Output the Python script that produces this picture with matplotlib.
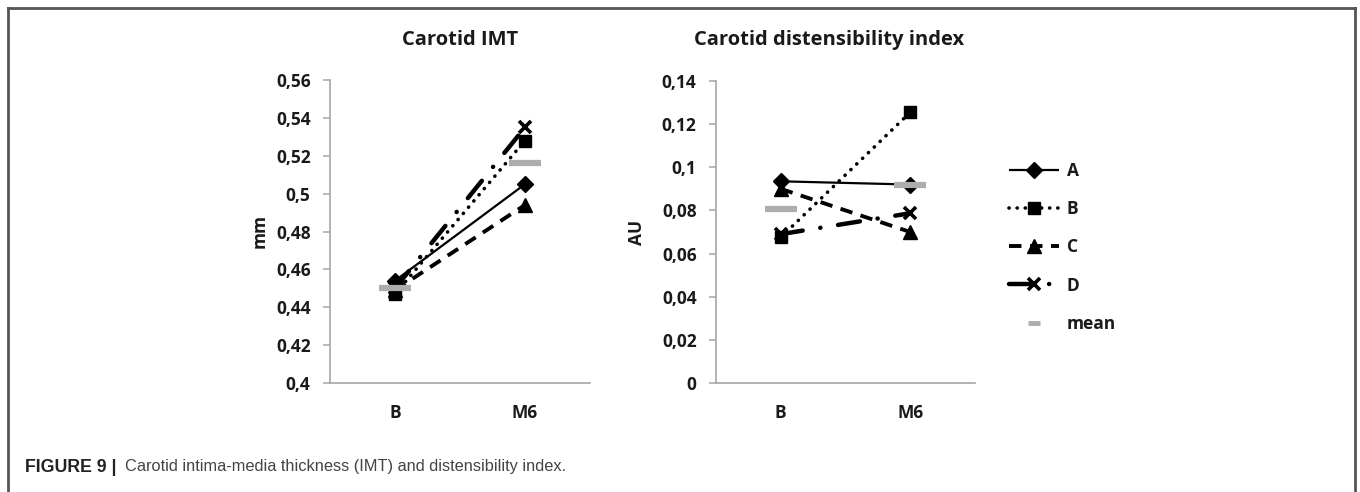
import matplotlib
matplotlib.use("Agg")
from matplotlib import pyplot as plt
from matplotlib.lines import Line2D

# chart data
categories = ["B", "M6"]
series_names = ["A", "B", "C", "D"]

imt_A = [0.454, 0.505]
imt_B = [0.447, 0.528]
imt_C = [0.449, 0.494]
imt_D = [0.450, 0.535]
imt_mean = [0.450, 0.516]

dist_A = [0.0935, 0.092]
dist_B = [0.0675, 0.1255]
dist_C = [0.090, 0.070]
dist_D = [0.069, 0.0787]
dist_mean = [0.0805, 0.0917]

imt_ticks = [0.40, 0.42, 0.44, 0.46, 0.48, 0.50, 0.52, 0.54, 0.56]
imt_ticklabels = ["0,4", "0,42", "0,44", "0,46", "0,48", "0,5", "0,52", "0,54", "0,56"]
dist_ticks = [0.0, 0.02, 0.04, 0.06, 0.08, 0.10, 0.12, 0.14]
dist_ticklabels = ["0", "0,02", "0,04", "0,06", "0,08", "0,1", "0,12", "0,14"]

FONT = "Open Sans"
FS = 12.5
AXCOL = "#a6a6a6"
MEANCOL = "#adadad"
TXTCOL = "#1a1a1a"

# line styles for each series
styles = {
    "A": dict(color="black", lw=1.6, ls="-", marker="D", ms=8.5),
    "B": dict(color="black", lw=2.6, ls=(0, (0.05, 2.2)), marker="s", ms=8.5,
              dash_capstyle="round"),
    "C": dict(color="black", lw=2.8, ls=(0, (3.2, 2.2)), marker="^", ms=10),
    "D": dict(color="black", lw=3.2, ls=(0, (5, 4, 0.05, 4)), marker="x", ms=9,
              mew=2.6, dash_capstyle="round"),
}

fig = plt.figure(figsize=(13.6, 4.92), dpi=100)

ax1 = fig.add_axes([330 / 1360, 109 / 492, 260 / 1360, 303 / 492])
ax2 = fig.add_axes([716 / 1360, 109 / 492, 259 / 1360, 302 / 492])

x = [0, 1]


def draw(ax, data, mean, ticks, ticklabels, ylabel, labelx):
    for name, vals in zip(series_names, data):
        st = dict(styles[name])
        ax.plot(x, vals, label=name, mfc="black", mec="black",
                solid_capstyle="butt", **st)
    ax.plot(x, mean, ls="none", marker="_", ms=23, mew=4.5, color=MEANCOL,
            label="mean", zorder=5)
    ax.set_xlim(-0.5, 1.5)
    ax.set_ylim(ticks[0], ticks[-1])
    ax.set_yticks(ticks)
    ax.set_yticklabels(ticklabels)
    ax.set_xticks(x)
    ax.set_xticklabels(categories)
    for s in ["top", "right"]:
        ax.spines[s].set_visible(False)
    for s in ["left", "bottom"]:
        ax.spines[s].set_color(AXCOL)
        ax.spines[s].set_linewidth(1.2)
    ax.tick_params(axis="y", length=5, width=1.1, color=AXCOL, pad=9)
    ax.tick_params(axis="x", length=0, pad=15)
    for lab in ax.get_yticklabels() + ax.get_xticklabels():
        lab.set_fontfamily(FONT)
        lab.set_fontweight("bold")
        lab.set_fontsize(FS)
        lab.set_color(TXTCOL)
    ax.set_ylabel(ylabel, fontfamily=FONT, fontweight="bold", fontsize=FS,
                  color=TXTCOL)
    ax.yaxis.set_label_coords(labelx, 0.5)


draw(ax1, [imt_A, imt_B, imt_C, imt_D], imt_mean, imt_ticks, imt_ticklabels,
     "mm", -0.235)
draw(ax2, [dist_A, dist_B, dist_C, dist_D], dist_mean, dist_ticks,
     dist_ticklabels, "AU", -0.27)

fig.text(460 / 1360, 1 - 40 / 492, "Carotid IMT", ha="center", va="center",
         fontfamily=FONT, fontweight="bold", fontsize=14.5, color=TXTCOL)
fig.text(829 / 1360, 1 - 40 / 492, "Carotid distensibility index",
         ha="center", va="center", fontfamily=FONT, fontweight="bold",
         fontsize=14.5, color=TXTCOL)

handles, labels = ax2.get_legend_handles_labels()
# the legend shows the mean as a short grey dash
handles[-1] = Line2D([], [], ls="none", marker="_", ms=9, mew=3.5, color=MEANCOL)
leg = fig.legend(handles, labels, loc="upper left",
                 bbox_to_anchor=(993 / 1360, 1 - 146 / 492), frameon=False,
                 handlelength=2.9, labelspacing=1.17, handletextpad=0.45,
                 prop=dict(family=FONT, weight="bold", size=FS))
for t in leg.get_texts():
    t.set_color(TXTCOL)

# figure frame (open at the bottom)
frame_kw = dict(color="#555555", lw=2, transform=fig.transFigure)
fig.add_artist(Line2D([8 / 1360, 8 / 1360], [0, 1 - 8 / 492], **frame_kw))
fig.add_artist(Line2D([8 / 1360, 1355 / 1360], [1 - 8 / 492, 1 - 8 / 492], **frame_kw))
fig.add_artist(Line2D([1355 / 1360, 1355 / 1360], [0, 1 - 8 / 492], **frame_kw))

# caption
fig.text(25 / 1360, 1 - 467 / 492, "FIGURE 9 |", ha="left", va="center",
         fontfamily="Liberation Sans", fontweight="bold", fontsize=12.8,
         color="#222222")
fig.text(125 / 1360, 1 - 467 / 492,
         "Carotid intima-media thickness (IMT) and distensibility index.",
         ha="left", va="center", fontfamily="Liberation Sans", fontsize=11.8,
         color="#444444")

fig.savefig("out.png", dpi=100)
